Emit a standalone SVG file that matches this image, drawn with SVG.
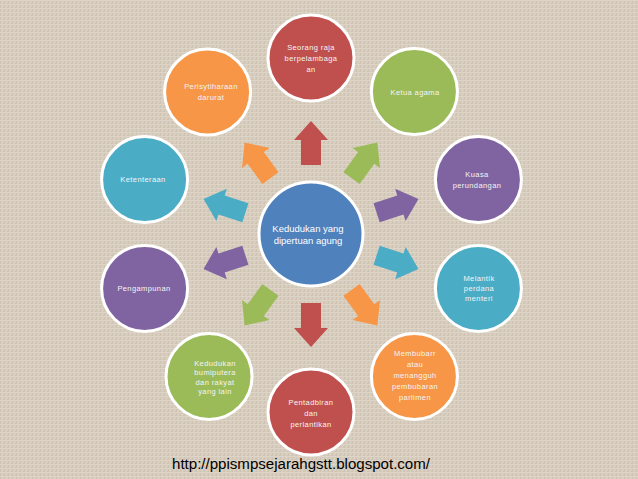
<svg xmlns="http://www.w3.org/2000/svg" width="638" height="479" viewBox="0 0 638 479">
<defs>
<pattern id="linen" width="4" height="4" patternUnits="userSpaceOnUse">
<rect width="4" height="4" fill="#D7CDBE"/>
<rect x="0" y="0" width="4" height="1" fill="#DED5C8"/>
<rect x="0" y="1" width="1" height="3" fill="#CFC4B4"/>
<rect x="2" y="2" width="1" height="1" fill="#DCD3C5"/>
<rect x="3" y="3" width="1" height="1" fill="#D0C5B5"/>
</pattern>
<path id="arr" d="M0,-22 L17,-3 L10,-3 L10,22 L-10,22 L-10,-3 L-17,-3 Z"/>
</defs>
<style>
.c{stroke:#FFFFFF;stroke-width:3}
.t{font-family:"Liberation Sans",Arial,sans-serif;font-size:7.5px;fill:#F4F4F4;text-anchor:middle;letter-spacing:0.4px}
.tc{font-family:"Liberation Sans",Arial,sans-serif;font-size:9.5px;fill:#FFFFFF;text-anchor:middle}
.red{fill:#C0504D}.grn{fill:#9BBB59}.pur{fill:#8064A2}.aqu{fill:#4BACC6}.org{fill:#F79646}.blu{fill:#4F81BD}
</style>
<rect width="638" height="479" fill="url(#linen)"/>
<g id="connectors">
<use href="#arr" class="red" transform="rotate(0 311 234) translate(311 143)"/>
<use href="#arr" class="grn" transform="rotate(36 311 234) translate(311 143)"/>
<use href="#arr" class="pur" transform="rotate(72 311 234) translate(311 143)"/>
<use href="#arr" class="aqu" transform="rotate(108 311 234) translate(311 143)"/>
<use href="#arr" class="org" transform="rotate(144 311 234) translate(311 143)"/>
<use href="#arr" class="red" transform="rotate(180 311 234) translate(311 143)"/>
<use href="#arr" class="grn" transform="rotate(216 311 234) translate(311 143)"/>
<use href="#arr" class="pur" transform="rotate(252 311 234) translate(311 143)"/>
<use href="#arr" class="aqu" transform="rotate(288 311 234) translate(311 143)"/>
<use href="#arr" class="org" transform="rotate(324 311 234) translate(311 143)"/>
</g>
<g id="center">
<circle class="c blu" cx="311" cy="234" r="52"/>
<text class="tc" x="308" y="232">Kedudukan yang</text>
<text class="tc" x="308" y="244">dipertuan agung</text>
</g>
<g id="n-seorang">
<circle class="c red" cx="311" cy="58" r="43"/>
<text class="t" x="311" y="50">Seorang raja</text>
<text class="t" x="311" y="61">berpelambaga</text>
<text class="t" x="311" y="72">an</text>
</g>
<g id="n-ketua">
<circle class="c grn" cx="414.4" cy="91.6" r="43"/>
<text class="t" x="415" y="95">Ketua agama</text>
</g>
<g id="n-kuasa">
<circle class="c pur" cx="478.4" cy="179.6" r="43"/>
<text class="t" x="477" y="177">Kuasa</text>
<text class="t" x="477" y="188">perundangan</text>
</g>
<g id="n-melantik">
<circle class="c aqu" cx="478.4" cy="288.4" r="43"/>
<text class="t" x="479" y="281">Melantik</text>
<text class="t" x="479" y="291">perdana</text>
<text class="t" x="479" y="301">menteri</text>
</g>
<g id="n-membubarr">
<circle class="c org" cx="414.4" cy="376.4" r="43"/>
<text class="t" x="415" y="356">Membubarr</text>
<text class="t" x="415" y="367">atau</text>
<text class="t" x="415" y="378">menangguh</text>
<text class="t" x="415" y="389">pembubaran</text>
<text class="t" x="415" y="400">parlimen</text>
</g>
<g id="n-pentadbiran">
<circle class="c red" cx="311" cy="412" r="43"/>
<text class="t" x="311" y="405">Pentadbiran</text>
<text class="t" x="311" y="416">dan</text>
<text class="t" x="311" y="427">perlantikan</text>
</g>
<g id="n-kedudukan">
<circle class="c grn" cx="209" cy="376.4" r="43"/>
<text class="t" x="215" y="366">Kedudukan</text>
<text class="t" x="215" y="375">bumiputera</text>
<text class="t" x="215" y="385">dan rakyat</text>
<text class="t" x="215" y="394">yang lain</text>
</g>
<g id="n-pengampunan">
<circle class="c pur" cx="144.6" cy="288.4" r="43"/>
<text class="t" x="144" y="291">Pengampunan</text>
</g>
<g id="n-ketenteraan">
<circle class="c aqu" cx="144.6" cy="179.6" r="43"/>
<text class="t" x="143" y="182">Ketenteraan</text>
</g>
<g id="n-perisytiharaan">
<circle class="c org" cx="207.6" cy="92" r="43"/>
<text class="t" x="211" y="89">Perisytiharaan</text>
<text class="t" x="211" y="100">darurat</text>
</g>
<text x="172" y="469" font-family="'Liberation Sans',Arial,sans-serif" font-size="14" fill="#000000" textLength="258" lengthAdjust="spacingAndGlyphs">http://ppismpsejarahgstt.blogspot.com/</text>
</svg>
